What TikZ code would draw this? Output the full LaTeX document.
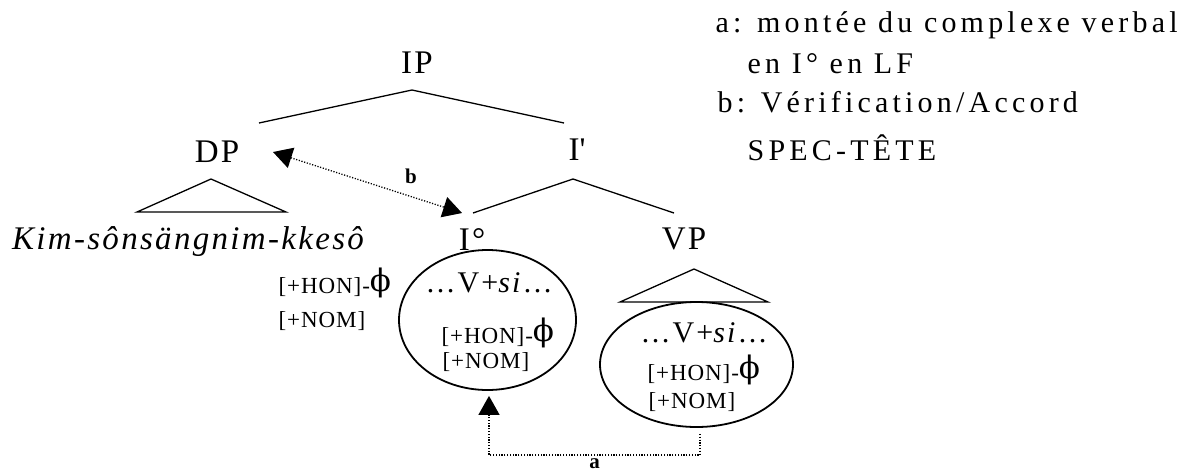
\documentclass[tikz,border=0pt]{standalone}
\usepackage{fontspec}
\setmainfont{Liberation Serif}
\newfontfamily\treefont[LetterSpace=7]{Liberation Serif}
\newfontfamily\featfont[LetterSpace=4]{Liberation Serif}
\newfontfamily\legfont[LetterSpace=14]{Liberation Serif}
\newfontfamily\phifont{DejaVu Serif}
\usetikzlibrary{shapes.geometric,arrows.meta}
\newcommand\phibig{{\fontsize{31}{31}\phifont\raisebox{1.5pt}{ϕ}}}
\tikzset{
  cat/.style={inner sep=0pt, anchor=base, font={\fontsize{33}{36}\treefont}},
  feat/.style={inner sep=0pt, anchor=base west, font={\fontsize{23}{24}\featfont}},
  verb/.style={inner sep=0pt, anchor=base, font={\fontsize{30}{32}\treefont}},
  leg/.style={inner sep=0pt, anchor=base west, font={\fontsize{30}{32}\legfont}},
  mark label/.style={inner sep=0.5pt, anchor=base, font={\fontsize{21}{22}\selectfont\bfseries}},
  blob/.style={ellipse, draw, line width=1.8pt, inner sep=0pt},
  dotline/.style={line width=1.3pt, dash pattern=on 1.2pt off 1.6pt},
}

\begin{document}
\begin{tikzpicture}[
x=1pt, y=-1pt,
line width=1.3pt,
>={Triangle[length=19pt,width=21pt]}
]
\useasboundingbox (0,0) rectangle (1187,472);

% tree
\node[cat] (IP) at (417,73) {IP};
\node[cat] (DP) at (217,162) {DP};
\node[cat] (Ibar) at (577,160) {I\textquotesingle};
\node[cat] (I0) at (472,250) {I°};
\node[cat] (VP) at (684,249) {VP};
\node[cat, font={\fontsize{33}{36}\treefont\itshape}] (Kim) at (188,249) {Kim-sônsängnim-kkesô};

\coordinate (IPb) at (412,90);
\coordinate (DPt) at (259,123);
\coordinate (Ibart) at (564,123);
\coordinate (Ibarb) at (573,179);
\coordinate (I0t) at (473,213);
\coordinate (VPt) at (674,213);
\draw (DPt) -- (IPb) -- (Ibart);
\draw (I0t) -- (Ibarb) -- (VPt);

% roofs
\draw (211,179) -- ++(-74,33) -- ++(149,0) -- cycle;
\draw (694,269) -- ++(-74,33) -- ++(148,0) -- cycle;

% features
\node[feat] (honA) at (278,293) {[+HON]-\phibig};
\node[feat] (nomA) at (278,327) {[+NOM]};

\node[blob, minimum width=177pt, minimum height=140pt] (Iell) at (487.5,320) {};
\node[verb] (vI) at (489,292) {…V+\textit{si}…};
\node[feat] (honI) at (441,343) {[+HON]-\phibig};
\node[feat] (nomI) at (442,368) {[+NOM]};

\node[blob, minimum width=193pt, minimum height=125pt] (VPell) at (696.5,364.5) {};
\node[verb] (vV) at (704,342) {…V+\textit{si}…};
\node[feat] (honV) at (647,380) {[+HON]-\phibig};
\node[feat] (nomV) at (648,408) {[+NOM]};

% movements
\coordinate (bDP) at (273,152);
\coordinate (bI0) at (462,213);
\draw[dotline, <->] (bDP) -- (bI0)
  node[mark label, pos=0.73, yshift=13pt] {b};
\draw[dotline, ->, shorten <=6pt, shorten >=5pt] ([xshift=3.5pt]VPell.south) -- ++(0,27) -| ([xshift=1.5pt]Iell.south)
  node[mark label, pos=0.25, yshift=-14pt] {a};

% legend
\node[leg] (la) at (715,32) {a: montée du complexe verbal};
\node[leg] (la2) at (747,73) {en I° en LF};
\node[leg] (lb) at (717,112) {b: Vérification/Accord};
\node[leg] (lb2) at (747,160) {SPEC-TÊTE};
\end{tikzpicture}
\end{document}
